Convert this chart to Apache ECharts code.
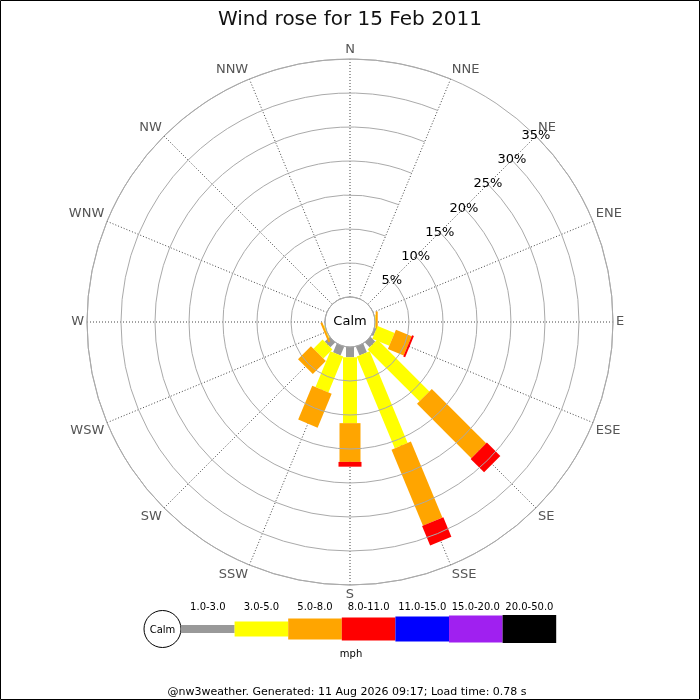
<!DOCTYPE html>
<html lang="en">
<head>
    <meta charset="UTF-8">
    <title>Wind rose</title>
    <script src="https://cdn.jsdelivr.net/npm/echarts@6/dist/echarts.min.js"></script>
    <style>
        body { margin: 0; background: #fff; }
        #container { width: 700px; height: 700px; }
    </style>
</head>
<body>
<div id="container"></div>
<script>
    // compass points, clockwise from N
    var DIRECTIONS = ['N', 'NNE', 'NE', 'ENE', 'E', 'ESE', 'SE', 'SSE',
                      'S', 'SSW', 'SW', 'WSW', 'W', 'WNW', 'NW', 'NNW'];
    var SPEED_CLASSES = ['1.0-3.0', '3.0-5.0', '5.0-8.0', '8.0-11.0', '11.0-15.0', '15.0-20.0', '20.0-50.0'];

    // % of time per direction, one list per speed class (mph)
    var FREQ_1_3   = [0, 0, 0, 0, 0,   0.3, 1.0,  1.4,  1.5, 1.4, 1.0, 0,   0, 0, 0, 0];
    var FREQ_3_5   = [0, 0, 0, 0, 0.1, 2.7, 10.8, 14.6, 9.7, 5.7, 1.9, 0.1, 0, 0, 0, 0];
    var FREQ_5_8   = [0, 0, 0, 0, 0.3, 2.5, 11.3, 12.1, 5.7, 5.4, 2.7, 0.3, 0, 0, 0, 0];
    var FREQ_8_11  = [0, 0, 0, 0, 0,   0.3, 2.8,  3.1,  0.7, 0,   0,   0,   0, 0, 0, 0];
    var FREQ_11_15 = [0, 0, 0, 0, 0,   0,   0,    0,    0,   0,   0,   0,   0, 0, 0, 0];
    var FREQ_15_20 = [0, 0, 0, 0, 0,   0,   0,    0,    0,   0,   0,   0,   0, 0, 0, 0];
    var FREQ_20_50 = [0, 0, 0, 0, 0,   0,   0,    0,    0,   0,   0,   0,   0, 0, 0, 0];

    var RADIUS_MAX = 35, RADIUS_STEP = 5;

    // styles
    var CLASS_COLORS = ['#999999', '#ffff00', '#ffa500', '#ff0000', '#0000ff', '#a020f0', '#000000'];
    var BAR_WIDTHS = [8, 14, 21, 23, 25, 27, 28];
    var FONT = 'DejaVu Sans';

    var freqs = [FREQ_1_3, FREQ_3_5, FREQ_5_8, FREQ_8_11, FREQ_11_15, FREQ_15_20, FREQ_20_50];

    // radius axis is drawn along startAngle, so start the angle axis at NE
    var SHIFT = 2;
    var axisDirs = DIRECTIONS.slice(SHIFT).concat(DIRECTIONS.slice(0, SHIFT));

    // stack the classes outward: [angleIndex, from, to, class]
    var segments = [];
    DIRECTIONS.forEach(function (d, i) {
        var acc = 0;
        var idx = (i - SHIFT + DIRECTIONS.length) % DIRECTIONS.length;
        freqs.forEach(function (list, c) {
            var v = list[i];
            if (v > 0) {
                segments.push([idx, acc, acc + v, c]);
                acc += v;
            }
        });
    });

    function renderItem(params, api) {
        var dir = api.value(0), from = api.value(1), to = api.value(2), cls = api.value(3);
        var cs = params.coordSys;
        var p0 = api.coord([from, dir]);
        var p1 = api.coord([to, dir]);
        var ux = p1[0] - cs.cx, uy = p1[1] - cs.cy;
        var len = Math.sqrt(ux * ux + uy * uy);
        ux /= len; uy /= len;
        var hw = BAR_WIDTHS[cls] / 2;
        var nx = -uy * hw, ny = ux * hw;
        return {
            type: 'polygon',
            shape: {
                points: [
                    [p0[0] + nx, p0[1] + ny],
                    [p1[0] + nx, p1[1] + ny],
                    [p1[0] - nx, p1[1] - ny],
                    [p0[0] - nx, p0[1] - ny]
                ]
            },
            style: {fill: CLASS_COLORS[cls]}
        };
    }

    // legend strip at the bottom
    var graphics = [
        {type: 'rect', shape: {x: 0.5, y: 0.5, width: 699, height: 699},
            style: {fill: 'none', stroke: '#000', lineWidth: 1}, z: 100},
        {type: 'circle', shape: {cx: 350, cy: 322, r: 25},
            style: {fill: '#fff', stroke: '#aaa', lineWidth: 1}, z: 1},
        {type: 'text', x: 350, y: 322, z: 2,
            style: {text: 'Calm', fill: '#000', font: '13px "' + FONT + '"', align: 'center', verticalAlign: 'middle'}},
        {type: 'circle', shape: {cx: 162.5, cy: 629, r: 18.5},
            style: {fill: '#fff', stroke: '#000', lineWidth: 1}},
        {type: 'text', x: 162.5, y: 630,
            style: {text: 'Calm', fill: '#000', font: '10px "' + FONT + '"', align: 'center', verticalAlign: 'middle'}},
        {type: 'text', x: 351, y: 654,
            style: {text: 'mph', fill: '#000', font: '10px "' + FONT + '"', align: 'center', verticalAlign: 'middle'}},
        {type: 'text', x: 347, y: 692,
            style: {text: '@nw3weather. Generated: 11 Aug 2026 09:17; Load time: 0.78 s', fill: '#000',
                font: '11px "' + FONT + '"', align: 'center', verticalAlign: 'middle'}}
    ];
    var legX = 181, legStep = 53.6, legY = 629;
    SPEED_CLASSES.forEach(function (name, c) {
        var h = BAR_WIDTHS[c] + (c === 1 ? 1 : 0);
        graphics.push({type: 'rect', shape: {x: legX + c * legStep, y: legY - h / 2, width: legStep, height: h},
            style: {fill: CLASS_COLORS[c]}});
        graphics.push({type: 'text', x: legX + (c + 0.5) * legStep, y: 607,
            style: {text: name, fill: '#000', font: '10px "' + FONT + '"', align: 'center', verticalAlign: 'middle'}});
    });

    var myChart = echarts.init(document.getElementById('container'));
    myChart.setOption({
        animation: false,
        backgroundColor: '#fff',
        title: {
            text: 'Wind rose for 15 Feb 2011',
            left: 'center',
            top: 5,
            textStyle: {fontSize: 20, fontWeight: 'normal', color: '#111', fontFamily: FONT}
        },
        polar: {center: [350, 322], radius: [25, 263]},
        angleAxis: {
            type: 'category',
            data: axisDirs,
            startAngle: 45,
            clockwise: true,
            boundaryGap: false,
            axisLine: {lineStyle: {color: '#aaa', width: 1}},
            axisTick: {show: false},
            axisLabel: {color: '#555', fontSize: 13, margin: 3, fontFamily: FONT},
            splitLine: {show: true, lineStyle: {color: '#444', type: [1, 2], width: 1}}
        },
        radiusAxis: {
            min: 0,
            max: RADIUS_MAX,
            interval: RADIUS_STEP,
            axisLine: {show: false},
            axisTick: {show: false},
            axisLabel: {
                showMinLabel: false,
                showMaxLabel: true,
                margin: 0,
                align: 'center',
                verticalAlign: 'middle',
                color: '#000',
                fontSize: 13,
                fontFamily: FONT,
                formatter: function (v) { return v === 0 ? '' : v + '%'; }
            },
            splitLine: {show: true, lineStyle: {color: '#aaa', width: 1}},
            z: 5
        },
        graphic: graphics,
        series: [{
            type: 'custom',
            coordinateSystem: 'polar',
            renderItem: renderItem,
            encode: {angle: 0, radius: 2},
            data: segments,
            z: 3
        }]
    });
</script>
</body>
</html>
